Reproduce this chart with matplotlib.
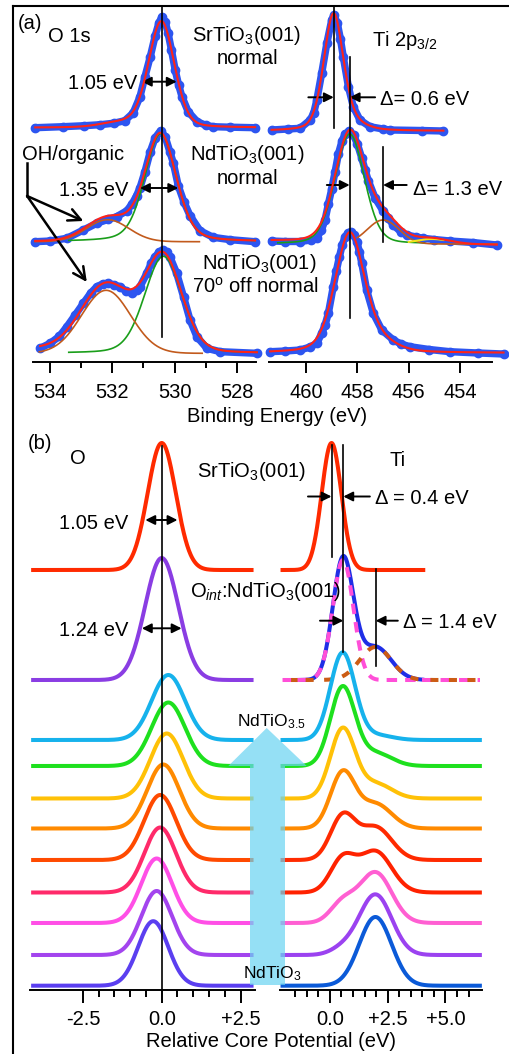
import numpy as np
import matplotlib
matplotlib.use("Agg")
import matplotlib.pyplot as plt
from matplotlib.patches import Polygon

plt.rcParams['font.family'] = ['Liberation Sans', 'DejaVu Sans']
plt.rcParams['mathtext.fontset'] = 'custom'
plt.rcParams['mathtext.rm'] = 'Liberation Sans'
plt.rcParams['mathtext.it'] = 'Liberation Sans:italic'
plt.rcParams['mathtext.bf'] = 'Liberation Sans:bold'

W, H = 510, 1054

# ---------------- panel (a): measured XPS spectra (binding energy eV, intensity above baseline)
o1s_sto_E = [534.48, 533.6, 532.9, 532.39, 531.95, 531.6, 531.33, 531.11, 530.95, 530.78, 530.62,
             530.5, 530.40, 530.3, 530.21, 530.1, 529.98, 529.87, 529.76, 529.56, 529.27, 529.0,
             528.76, 528.2, 527.41]
o1s_sto_I = [0, 1, 2, 3, 4.5, 7, 14.7, 31, 51, 71, 92, 105, 111, 106, 95, 78, 58, 43, 31, 16, 6,
             2.5, 1, 0.5, 0]

o1s_nto_E = [534.48, 534.0, 533.46, 532.93, 532.5, 532.13, 531.86, 531.53, 531.36, 531.22, 531.11,
             530.95, 530.78, 530.62, 530.45, 530.3, 530.15, 530.04, 529.88, 529.7, 529.5, 529.18,
             528.76, 528.21, 527.41]
o1s_nto_I = [0, 0.7, 3.4, 11.7, 18.4, 22.4, 25, 31, 38, 46, 54, 70, 90, 104, 111, 105, 90, 79, 56,
             40, 26, 11, 4.4, 2, 0]

o1s_off_E = [534.32, 534.0, 533.7, 533.46, 533.2, 532.93, 532.7, 532.5, 532.3, 532.13, 531.95,
             531.75, 531.55, 531.37, 531.2, 531.11, 530.89, 530.75, 530.62, 530.5, 530.38, 530.25,
             530.15, 529.93, 529.71, 529.5, 529.28, 528.96, 528.53, 527.35]
o1s_off_I = [5, 10, 17, 26.6, 38, 50, 60, 66.6, 69.5, 70, 68.5, 66.6, 62, 60, 63, 66.6, 80, 90,
             96.6, 101, 103.3, 101, 96.6, 80, 56.6, 33.3, 16.6, 5, 1.6, 0]

ti_sto_E = [461.34, 460.7, 460.23, 459.84, 459.7, 459.58, 459.39, 459.19, 459.0, 458.91, 458.78,
            458.66, 458.55, 458.35, 458.16, 457.9, 457.51, 457.0, 456.73, 455.5, 454.65]
ti_sto_I = [1, 2, 2.7, 11, 18, 31, 57.7, 87.7, 111, 116, 107.7, 92, 74.3, 44.3, 24.3, 11, 4.3, 2,
            1, 0.5, 0]

ti_nto_E = [461.34, 460.8, 460.23, 459.8, 459.58, 459.4, 459.26, 459.13, 459.0, 458.87, 458.74,
            458.6, 458.48, 458.31, 458.15, 458.0, 457.83, 457.7, 457.57, 457.31, 457.0, 456.8,
            456.6, 456.3, 456.08, 455.7, 455.43, 455.0, 454.39, 453.5, 452.57]
ti_nto_I = [3, 2.5, 2.5, 4, 6, 14, 24, 40, 55, 72, 90, 103, 110, 113, 109, 100, 86, 74, 63, 46,
            33, 26, 19, 12, 9, 7, 5.7, 4.5, 3, 1.5, -1]

ti_off_E = [461.40, 460.8, 460.23, 459.84, 459.58, 459.39, 459.26, 459.13, 458.94, 458.82, 458.70,
            458.59, 458.48, 458.36, 458.25, 458.14, 458.02, 457.92, 457.83, 457.64, 457.38, 457.05,
            456.6, 456.3, 455.95, 455.2, 454.39, 453.3, 452.31]
ti_off_I = [1.3, 2, 3, 6, 9.7, 19.7, 28, 39.7, 66.3, 82, 96.3, 108, 116.3, 120, 121.3, 118, 111.3,
            101, 89.7, 63, 39.7, 23, 13, 9, 6.3, 3.5, 1.3, 0, -1]

# fit components: (centre eV, height, FWHM eV, lorentzian fraction)
o1s_sto_fit = [(530.42, 106, 0.98, 0.2), (531.7, 4.5, 1.5, 0.0)]
o1s_nto_lat = (530.45, 108, 1.2, 0.3)
o1s_nto_oh = (532.15, 22, 1.6, 0.0)
o1s_off_lat = (530.36, 97, 1.42, 0.2)
o1s_off_oh = (532.2, 63, 1.85, 0.0)
o1s_off_step = 5.0
ti_sto_fit = [(458.93, 116, 0.9, 0.3), (458.2, 5, 1.2, 0.0)]
ti_nto_main = (458.30, 110, 1.35, 0.2)
ti_nto_red = (457.0, 24, 1.45, 0.0)
ti_nto_low = (455.1, 5, 1.6, 0.0)
ti_nto_bg = (3.0, -1.0)
ti_off_fit = [(458.30, 119.5, 1.36, 0.3), (457.1, 8, 1.5, 0.0)]

# energy spans over which the components were drawn
o1s_nto_lat_span = (533.4, 527.41)
o1s_nto_oh_span = (534.48, 529.2)
o1s_off_lat_span = (533.4, 527.35)
o1s_off_oh_span = (534.35, 529.11)
ti_nto_main_span = (461.1, 455.4)
ti_nto_red_span = (458.0, 452.57)
ti_nto_low_span = (456.0, 454.65)

# baselines of the stacked spectra
a_off_o = [234.3, 120.3, 8.7]
a_off_ti = [231, 118, 9]

# peak markers in (a)
o1s_line = 530.4
ti_lines = [458.92, 458.30, 457.0]

# ---------------- panel (b): calculated core potentials (eV)
b_sto_o = (0.0, 127, 1.05)
b_int_o = (0.0, 122, 1.24)
b_top_off = [420, 310]
b_sto_ti = (0.07, 127, 1.0)
b_int_ti_a = (0.57, 120, 1.05)
b_int_ti_b = (1.97, 33, 1.6)
b_ti_lines = [0.07, 0.58, 1.98]

stack_off = [250, 224, 191.5, 161.5, 130, 97.5, 67, 35, 4.3]
stack_o_centre = [0.21, 0.21, 0.16, 0.05, -0.05, -0.05, -0.16, -0.16, -0.27]
stack_o_height = [65, 63.5, 65, 64, 65, 65, 64.5, 64, 64.5]
stack_o_fwhm = [1.25, 1.25, 1.22, 1.2, 1.2, 1.18, 1.16, 1.15, 1.12]
stack_ti_a = [87, 78.3, 69, 55, 42.8, 32.8, 19.5, 6, 0]
stack_ti_b = [5, 13, 15, 24.5, 32.8, 41, 50.5, 60.5, 68.7]
ti_a_centre, ti_a_fwhm = 0.55, 1.25
ti_b_centre, ti_b_fwhm = 1.97, 1.65

stack_o_colors = ['#16b2ec', '#1ee01e', '#ffc107', '#ff8a00', '#ff4a00', '#ff2a6a', '#ff4fe6',
                  '#a344ee', '#5b3ff0']
stack_ti_colors = ['#16b2ec', '#1ee01e', '#ffc107', '#ff8a00', '#ff2a00', '#ff2200', '#ff5fd2',
                   '#9b42f0', '#0b5ad8']

DATA_BLUE = '#2d55f0'
FIT_RED = '#ff2418'
GREEN = '#1a9e1a'
BROWN = '#c25a1c'
YELLOW = '#f2e41c'


def pv(x, c, h, w, eta=0.0):
    g = np.exp(-4 * np.log(2) * ((x - c) / w) ** 2)
    lo = 1.0 / (1.0 + (2 * (x - c) / w) ** 2)
    return h * ((1 - eta) * g + eta * lo)


def grid(E):
    return np.linspace(min(E), max(E), 500)


def add_ax(left, top, right, bottom):
    ax = fig.add_axes([left / W, 1 - bottom / H, (right - left) / W, (bottom - top) / H])
    for s in ['top', 'left', 'right']:
        ax.spines[s].set_visible(False)
    ax.spines['bottom'].set_linewidth(1.4)
    ax.set_yticks([])
    ax.patch.set_alpha(0)
    return ax


def arrow(ax, tail, head, style='-|>', ms=14, lw=1.4):
    ax.annotate('', xy=head, xytext=tail, annotation_clip=False,
                arrowprops=dict(arrowstyle=style, color='k', lw=lw, mutation_scale=ms,
                                shrinkA=0, shrinkB=0))


def data(ax, E, I, off):
    ax.plot(E, np.array(I) + off, color=DATA_BLUE, lw=5.3, marker='o', ms=6,
            solid_joinstyle='round', solid_capstyle='round', zorder=2, clip_on=False)


def comp(ax, p, span, off, color, lw=1.2):
    x = np.linspace(span[0], span[1], 300)
    ax.plot(x, pv(x, *p) + off, color=color, lw=lw, zorder=3, clip_on=False)


fig = plt.figure(figsize=(W / 100, H / 100), dpi=100)

# ---------------- (a) O 1s
ax_o = add_ax(33.3, 6, 256, 362)
ax_o.set_xlim(534.54, 527.38)
ax_o.set_ylim(0, 356)
ax_o.set_xticks([534, 532, 530, 528])
ax_o.set_xticks([533, 531, 529], minor=True)

data(ax_o, o1s_sto_E, o1s_sto_I, a_off_o[0])
x = grid(o1s_sto_E)
ax_o.plot(x, sum(pv(x, *p) for p in o1s_sto_fit) + a_off_o[0], color=FIT_RED, lw=1.5, zorder=4,
          clip_on=False)

data(ax_o, o1s_nto_E, o1s_nto_I, a_off_o[1])
comp(ax_o, o1s_nto_lat, o1s_nto_lat_span, a_off_o[1], GREEN)
comp(ax_o, o1s_nto_oh, o1s_nto_oh_span, a_off_o[1], BROWN)
x = grid(o1s_nto_E)
ax_o.plot(x, pv(x, *o1s_nto_lat) + pv(x, *o1s_nto_oh) + a_off_o[1], color=FIT_RED, lw=1.5,
          zorder=4, clip_on=False)

data(ax_o, o1s_off_E, o1s_off_I, a_off_o[2])
comp(ax_o, o1s_off_lat, o1s_off_lat_span, a_off_o[2], GREEN)
comp(ax_o, o1s_off_oh, o1s_off_oh_span, a_off_o[2], BROWN)
x = grid(o1s_off_E)
bg = o1s_off_step / (1 + np.exp(-(x - 531.3) / 0.35))
ax_o.plot(x, pv(x, *o1s_off_lat) + pv(x, *o1s_off_oh) + bg + a_off_o[2], color=FIT_RED, lw=1.5,
          zorder=4, clip_on=False)

ax_o.plot([o1s_line, o1s_line], [356, 25], color='k', lw=1.2, zorder=5, clip_on=False)
arrow(ax_o, (531.05, 280.3), (529.93, 280.3), style='<|-|>')
arrow(ax_o, (531.11, 174), (529.88, 174), style='<|-|>')
ax_o.plot([534.74, 534.74], [199, 166], color='k', lw=1.8, clip_on=False)
arrow(ax_o, (534.74, 166), (532.93, 141), style='->', ms=22, lw=1.8)
arrow(ax_o, (534.74, 166), (532.82, 80), style='->', ms=22, lw=1.8)

# ---------------- (a) Ti 2p3/2
ax_t = add_ax(269.3, 6, 491.7, 362)
ax_t.set_xlim(461.43, 452.77)
ax_t.set_ylim(0, 356)
ax_t.set_xticks([460, 458, 456, 454])

data(ax_t, ti_sto_E, ti_sto_I, a_off_ti[0])
x = grid(ti_sto_E)
ax_t.plot(x, sum(pv(x, *p) for p in ti_sto_fit) + a_off_ti[0], color=FIT_RED, lw=1.5, zorder=4,
          clip_on=False)

data(ax_t, ti_nto_E, ti_nto_I, a_off_ti[1])
comp(ax_t, ti_nto_main, ti_nto_main_span, a_off_ti[1], GREEN)
comp(ax_t, ti_nto_red, ti_nto_red_span, a_off_ti[1], BROWN)
comp(ax_t, ti_nto_low, ti_nto_low_span, a_off_ti[1], YELLOW, lw=1.5)
x = grid(ti_nto_E)
bg = np.interp(x, [min(ti_nto_E), max(ti_nto_E)], [ti_nto_bg[1], ti_nto_bg[0]])
ax_t.plot(x, pv(x, *ti_nto_main) + pv(x, *ti_nto_red) + pv(x, *ti_nto_low) + bg + a_off_ti[1],
          color=FIT_RED, lw=1.5, zorder=4, clip_on=False)

data(ax_t, ti_off_E, ti_off_I, a_off_ti[2])
x = grid(ti_off_E)
ax_t.plot(x, sum(pv(x, *p) for p in ti_off_fit) + a_off_ti[2], color=FIT_RED, lw=1.5, zorder=4,
          clip_on=False)

ax_t.plot([ti_lines[0]] * 2, [356, 234], color='k', lw=1.2, zorder=5, clip_on=False)
ax_t.plot([ti_lines[1]] * 2, [305.3, 43.7], color='k', lw=1.2, zorder=5, clip_on=False)
ax_t.plot([ti_lines[2]] * 2, [215.3, 120.3], color='k', lw=1.2, zorder=5, clip_on=False)
arrow(ax_t, (459.91, 264.7), (ti_lines[0], 264.7))
arrow(ax_t, (457.31, 264.7), (ti_lines[1], 264.7))
arrow(ax_t, (459.19, 177), (ti_lines[1], 177))
arrow(ax_t, (456.08, 177), (ti_lines[2], 177))

# ---------------- (b) O
ax_ob = add_ax(30, 420, 255, 990)
ax_ob.set_xlim(-4.18, 2.96)
ax_ob.set_ylim(0, 570)
ax_ob.set_xticks([-2.5, 0, 2.5], ['-2.5', '0.0', '+2.5'])
ax_ob.set_xticks([-2, -1.5, -1, -0.5, 0.5, 1, 1.5, 2], minor=True)
xo = np.linspace(-4.08, 2.85, 500)
ax_ob.plot(xo, pv(xo, *b_sto_o) + b_top_off[0], color='#ff2a00', lw=2.9, clip_on=False)
ax_ob.plot(xo, pv(xo, *b_int_o) + b_top_off[1], color='#8a3de3', lw=2.9, clip_on=False)
for i in range(len(stack_off)):
    ax_ob.plot(xo, pv(xo, stack_o_centre[i], stack_o_height[i], stack_o_fwhm[i]) + stack_off[i],
               color=stack_o_colors[i], lw=2.9, clip_on=False)
ax_ob.plot([0, 0], [544, 0], color='k', lw=1.2, zorder=5, clip_on=False)
arrow(ax_ob, (-0.52, 470), (0.5, 470), style='<|-|>')
arrow(ax_ob, (-0.63, 361.7), (0.63, 361.7), style='<|-|>')

# ---------------- (b) Ti
ax_tb = add_ax(280, 420, 481.7, 990)
ax_tb.set_xlim(-2.16, 6.57)
ax_tb.set_ylim(0, 570)
ax_tb.set_xticks([0, 2.5, 5], ['0.0', '+2.5', '+5.0'])
ax_tb.set_xticks([-1.5, -1, -0.5, 0.5, 1, 1.5, 2, 3, 3.5, 4, 4.5, 5.5, 6], minor=True)

xs = np.linspace(-2.05, 4.04, 400)
ax_tb.plot(xs, pv(xs, *b_sto_ti) + b_top_off[0], color='#ff2a00', lw=2.9, clip_on=False)

# O_int fit: solid total, dashed components (drawn in three pieces so the dashes alternate
# on the flat wings)
xm = np.linspace(-1.4, 4.0, 400)
ax_tb.plot(xm, pv(xm, *b_int_ti_a) + pv(xm, *b_int_ti_b) + b_top_off[1], color='#1f2ee6',
           lw=2.9, clip_on=False)
for lo_, hi_ in [(-2.05, -1.4), (-1.4, 4.0), (4.0, 6.49)]:
    xx = np.linspace(lo_, hi_, 300)
    ax_tb.plot(xx, pv(xx, *b_int_ti_a) + b_top_off[1], color='#ff4fd8', lw=2.9,
               linestyle=(0, (2.6, 2.0)), clip_on=False)
    ax_tb.plot(xx, pv(xx, *b_int_ti_b) + b_top_off[1], color='#cc5c14', lw=2.9,
               linestyle=(2.6, (2.0, 2.6)), clip_on=False)

xt = np.linspace(-2.05, 6.49, 500)
for i in range(len(stack_off)):
    y = pv(xt, ti_a_centre, stack_ti_a[i], ti_a_fwhm) + pv(xt, ti_b_centre, stack_ti_b[i], ti_b_fwhm)
    ax_tb.plot(xt, y + stack_off[i], color=stack_ti_colors[i], lw=2.9, clip_on=False)

ax_tb.plot([b_ti_lines[0]] * 2, [545, 433.3], color='k', lw=1.2, zorder=5, clip_on=False)
ax_tb.plot([b_ti_lines[1]] * 2, [545, 338.3], color='k', lw=1.2, zorder=5, clip_on=False)
ax_tb.plot([b_ti_lines[2]] * 2, [421, 324], color='k', lw=1.2, zorder=5, clip_on=False)
arrow(ax_tb, (-0.95, 493.5), (b_ti_lines[0], 493.5))
arrow(ax_tb, (1.73, 493.5), (b_ti_lines[1], 493.5))
arrow(ax_tb, (-0.43, 369.3), (b_ti_lines[1], 369.3))
arrow(ax_tb, (2.94, 369.3), (b_ti_lines[2], 369.3))

for ax in (ax_o, ax_t):
    ax.tick_params(axis='x', which='major', length=8, width=1.4, pad=7, labelsize=14.5)
    ax.tick_params(axis='x', which='minor', length=4, width=1.4)
for ax in (ax_ob, ax_tb):
    ax.tick_params(axis='x', which='major', length=9.5, width=1.4, pad=5, labelsize=14.5)
    ax.tick_params(axis='x', which='minor', length=5, width=1.4)

# ---------------- overlay in pixel coordinates: frame, arrow, labels
ov = fig.add_axes([0, 0, 1, 1], zorder=10)
ov.set_xlim(0, W)
ov.set_ylim(H, 0)
ov.axis('off')
ov.plot([13, 510], [6, 6], color='k', lw=1.5, clip_on=False)
ov.plot([13, 13], [6, 1054], color='k', lw=1.5, clip_on=False)
ov.add_patch(Polygon([(250, 985), (250, 766), (228.3, 766), (266.7, 728), (306.7, 766),
                      (285, 766), (285, 985)], closed=True, fc='#69d3f1', ec='none', alpha=0.7,
                     zorder=1))

FS = 14.5
labels = [
    ('(a)', 30.5, 28.9, 'center'), ('O 1s', 48, 42.2, 'left'),
    ('SrTiO$_3$(001)', 246, 41.2, 'center'), ('normal', 247.5, 64.2, 'center'),
    ('1.05 eV', 137, 88.9, 'right'), ('OH/organic', 21.7, 160.5, 'left'),
    ('NdTiO$_3$(001)', 247.5, 160.5, 'center'), ('normal', 248, 183.9, 'center'),
    ('1.35 eV', 128, 195.5, 'right'),
    ('NdTiO$_3$(001)', 259, 268.9, 'center'),
    ('70$^{\\mathregular{o}}$ off normal', 255, 292.2, 'center'),
    ('Ti 2p$_{3/2}$', 371.7, 45.5, 'left'), ('Δ= 0.6 eV', 380, 105.2, 'left'),
    ('Δ= 1.3 eV', 413.3, 195.2, 'left'),
    ('Binding Energy (eV)', 277.5, 422.2, 'center'),
    ('(b)', 40.5, 449, 'center'), ('O', 70, 463.9, 'left'),
    ('SrTiO$_3$(001)', 196.7, 477.2, 'left'), ('1.05 eV', 128, 528.9, 'right'),
    ('Ti', 390, 465.5, 'left'), ('Δ = 0.4 eV', 375, 504.5, 'left'),
    ('O$_{int}$:NdTiO$_3$(001)', 190, 597.2, 'left'), ('1.24 eV', 128, 635.5, 'right'),
    ('Δ = 1.4 eV', 403.3, 627.9, 'left'),
    ('Relative Core Potential (eV)', 270.8, 1047.2, 'center'),
]
for s, xx, yy, ha in labels:
    ov.text(xx, yy, s, ha=ha, va='baseline', fontsize=FS, zorder=5)
ov.text(237, 726.2, 'NdTiO$_{3.5}$', ha='left', va='baseline', fontsize=12.5, zorder=5)
ov.text(243, 977.9, 'NdTiO$_3$', ha='left', va='baseline', fontsize=12.5, zorder=5)

fig.savefig('out.png', dpi=100)
